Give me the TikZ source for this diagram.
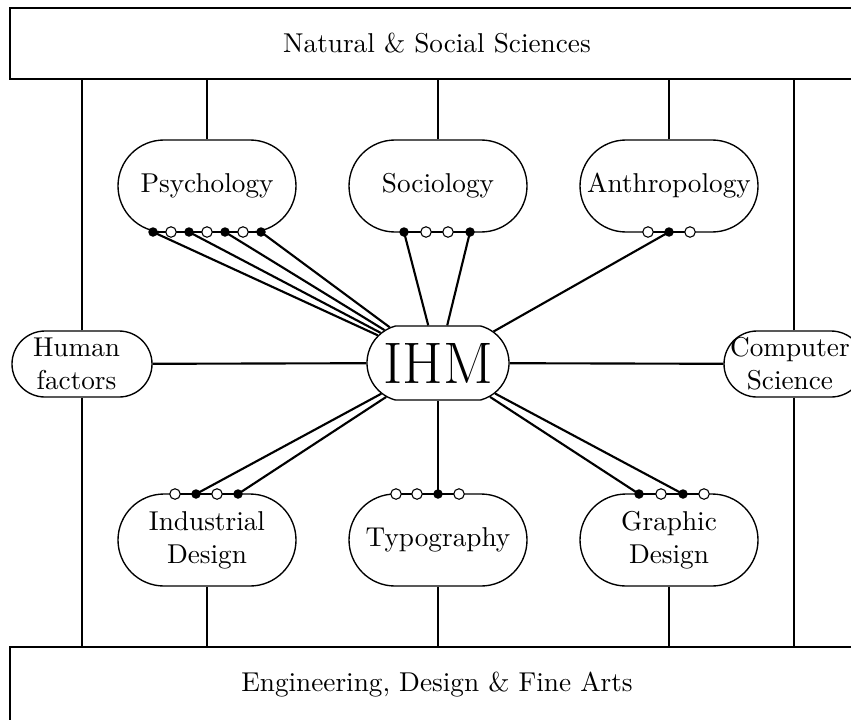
\documentclass[tikz,border=0pt]{standalone}
\usetikzlibrary{shapes.misc}
\newcommand\pxu{0.367}
\begin{document}
\begin{tikzpicture}[x=\pxu pt,y=-\pxu pt,
  conn/.style={line width=0.78pt},
  area/.style={draw, line width=0.78pt, rectangle, inner sep=0pt},
  disc/.style={rounded rectangle, draw, line width=0.5pt, inner sep=0pt,
    minimum width={178*\pxu pt}, minimum height={92*\pxu pt}},
  side/.style={rounded rectangle, draw, line width=0.5pt, inner sep=0pt,
    minimum width={140*\pxu pt}, minimum height={66*\pxu pt}},
  fdot/.style={circle, fill=black, inner sep=0pt, minimum size={9.5*\pxu pt}},
  odot/.style={circle, draw, line width=0.4pt, fill=white, inner sep=0pt, minimum size={10.5*\pxu pt}},
  txt/.style={align=center},
]
\useasboundingbox (0,0) rectangle (851,719);
\clip (0,0) rectangle (851,719);

% areas
\node[area, minimum width={854*\pxu pt}, minimum height={71*\pxu pt}] (top) at (437,43.5) {Natural \& Social Sciences};
\node[area, minimum width={854*\pxu pt}, minimum height={76*\pxu pt}] (bot) at (437,685) {Engineering, Design \& Fine Arts};

% disciplines
\node[disc, label={[txt]center:Psychology}] (psy) at (207,186) {};
\node[disc, label={[txt]center:Sociology}] (soc) at (438,186) {};
\node[disc, label={[txt]center:Anthropology}] (ant) at (669,186) {};
\node[disc, label={[txt]center:Industrial\\Design}] (ind) at (207,540) {};
\node[disc, label={[txt]center:Typography}] (typ) at (438,540) {};
\node[disc, label={[txt]center:Graphic\\Design}] (gra) at (669,540) {};
\node[side, label={[txt,xshift=-2pt]center:Human\\factors}] (hf) at (82,364) {};
\node[side, label={[txt,xshift=-1.5pt]center:Computer\\Science}] (cs) at (794,364) {};
\node[rounded rectangle, draw, line width=0.5pt, inner sep=0pt,
  rounded rectangle arc length=150, minimum width={142*\pxu pt}, minimum height={74*\pxu pt},
  label={[font=\fontsize{21.5}{26}\selectfont]center:IHM}] (ihm) at (438,363) {};

% links to areas
\foreach \n in {hf,psy,soc,ant,cs}
  \draw[conn] (\n.north) -- (\n.north |- top.south);
\foreach \n in {hf,ind,typ,gra,cs}
  \draw[conn] (\n.south) -- (\n.south |- bot.north);
\draw[conn] (hf) -- (ihm);
\draw[conn] (ihm) -- (cs);

% dot positions
\foreach \n/\x in {1/153,2/171,3/189,4/207,5/225,6/243,7/261}
  \coordinate (p\n) at (\x,232);
\foreach \n/\x in {1/404,2/426,3/448,4/470}
  \coordinate (s\n) at (\x,232);
\foreach \n/\x in {1/648,2/669,3/690}
  \coordinate (a\n) at (\x,232);
\foreach \n/\x in {1/175,2/196,3/217,4/238}
  \coordinate (i\n) at (\x,494);
\foreach \n/\x in {1/396,2/417,3/438,4/459}
  \coordinate (t\n) at (\x,494);
\foreach \n/\x in {1/639,2/661,3/683,4/704}
  \coordinate (g\n) at (\x,494);

% dot rows
\draw[conn] (p1) -- (p7);
\draw[conn] (s1) -- (s4);
\draw[conn] (a1) -- (a3);
\draw[conn] (i1) -- (i4);
\draw[conn] (t1) -- (t4);
\draw[conn] (g1) -- (g4);

% links to IHM
\foreach \c in {p1,p3,p5,p7,s1,s4,a2,i2,i4,t3,g1,g3}
  \draw[conn] (\c) -- (ihm);

% dots
\foreach \c in {p1,p3,p5,p7,s1,s4,a2,i2,i4,t3,g1,g3}
  \node[fdot] (\c d) at (\c) {};
\foreach \c in {p2,p4,p6,s2,s3,a1,a3,i1,i3,t1,t2,t4,g2,g4}
  \node[odot] (\c d) at (\c) {};
\end{tikzpicture}
\end{document}
